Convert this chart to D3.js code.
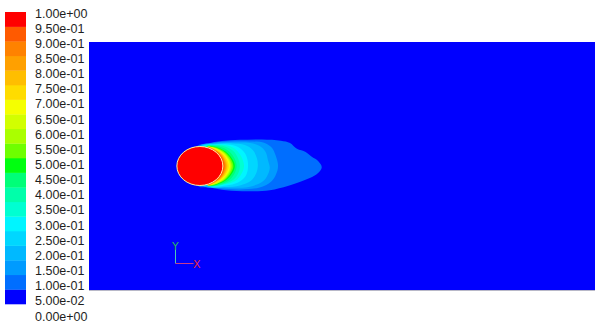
<!DOCTYPE html>
<html>
<head>
<meta charset="utf-8">
<script src="https://cdn.jsdelivr.net/npm/d3@7"></script>
<style>
  html, body { margin: 0; padding: 0; background: #ffffff; }
  svg { display: block; }
</style>
</head>
<body>
<svg id="chart" width="595" height="323"></svg>
<script>
// Colour-bar tick values and their printed labels (top to bottom)
const tickValues = [1.00, 0.95, 0.90, 0.85, 0.80, 0.75, 0.70, 0.65, 0.60, 0.55, 0.50,
                    0.45, 0.40, 0.35, 0.30, 0.25, 0.20, 0.15, 0.10, 0.05, 0.00];
const tickLabels = ["1.00e+00", "9.50e-01", "9.00e-01", "8.50e-01", "8.00e-01", "7.50e-01",
                    "7.00e-01", "6.50e-01", "6.00e-01", "5.50e-01", "5.00e-01", "4.50e-01",
                    "4.00e-01", "3.50e-01", "3.00e-01", "2.50e-01", "2.00e-01", "1.50e-01",
                    "1.00e-01", "5.00e-02", "0.00e+00"];

// Band colours, band 0 = [0, 0.05) ... band 19 = [0.95, 1.00]
const bandColors = ["#0000ff", "#006eff", "#009bff", "#00b9ff", "#00d7ff",
                    "#00f5ff", "#00ffd2", "#00ffaa", "#00ff78", "#00ff10",
                    "#6eff00", "#aaff00", "#d2ff00", "#f5ff00", "#ffdc00",
                    "#ffbe00", "#ffa000", "#ff8200", "#ff5a00", "#ff0000"];

// Flow domain extent in cylinder diameters (x/D, y/D)
const domainX = [-2.41, 8.59];
const domainY = [-3.18, 3.18];
const cylinderRadius = 0.5;

// Iso-contour outlines of the scalar field (x/D, y/D), lower bound of each band
const contourLevels = [0.05, 0.10, 0.15, 0.20, 0.25, 0.30, 0.35, 0.40, 0.45,
                       0.50, 0.55, 0.60, 0.65, 0.70, 0.75, 0.80, 0.85, 0.90];

const iso05 = [[-0.06,0.51],[0.17,0.58],[0.48,0.64],[0.87,0.67],[1.35,0.68],[1.76,0.65],
               [1.96,0.59],[2.11,0.44],[2.30,0.36],[2.44,0.23],[2.57,0.13],[2.65,-0.03],
               [2.57,-0.18],[2.39,-0.31],[2.17,-0.41],[1.91,-0.51],[1.52,-0.62],[1.04,-0.65],
               [0.57,-0.62],[0.22,-0.55],[-0.04,-0.51],[-0.2,0]];
const iso10 = [[-0.02,0.51],[0.26,0.59],[0.65,0.63],[1.09,0.63],[1.41,0.59],[1.57,0.46],
               [1.65,0.26],[1.70,0],[1.65,-0.23],[1.54,-0.41],[1.30,-0.55],[0.87,-0.60],
               [0.43,-0.57],[0.11,-0.52],[-0.2,0]];
const iso15 = [[0.02,0.51],[0.30,0.58],[0.70,0.60],[1.09,0.59],[1.30,0.51],[1.43,0.36],
               [1.48,0.15],[1.52,-0.05],[1.46,-0.26],[1.35,-0.41],[1.09,-0.53],[0.70,-0.56],
               [0.33,-0.54],[0.07,-0.51],[-0.2,0]];
const iso20 = [[0.04,0.51],[0.33,0.56],[0.70,0.58],[0.98,0.54],[1.15,0.41],[1.24,0.20],
               [1.26,0],[1.22,-0.20],[1.11,-0.38],[0.87,-0.50],[0.54,-0.54],[0.22,-0.53],[-0.2,0]];
const iso25 = [[0.07,0.505],[0.33,0.55],[0.61,0.55],[0.83,0.49],[0.98,0.33],[1.04,0.13],
               [1.04,-0.10],[0.98,-0.28],[0.83,-0.42],[0.57,-0.50],[0.26,-0.51],[-0.2,0]];
const iso30 = [[0.09,0.505],[0.33,0.54],[0.57,0.53],[0.76,0.44],[0.89,0.26],[0.96,0],
               [0.89,-0.23],[0.76,-0.39],[0.54,-0.47],[0.26,-0.505],[-0.2,0]];
const iso35 = [[0.11,0.50],[0.33,0.53],[0.54,0.50],[0.72,0.39],[0.83,0.20],[0.87,0],
               [0.83,-0.20],[0.72,-0.36],[0.52,-0.46],[0.26,-0.50],[-0.2,0]];
const iso40 = [[0.13,0.50],[0.33,0.515],[0.50,0.47],[0.65,0.36],[0.76,0.18],[0.80,0],
               [0.76,-0.18],[0.65,-0.35],[0.48,-0.45],[0.24,-0.50],[-0.2,0]];
const iso45 = [[0.15,0.48],[0.289,0.501],[0.591,0.342],[0.761,0],[0.591,-0.342],[0.289,-0.501],[0.15,-0.48],[0,0]];
const iso50 = [[0.15,0.48],[0.284,0.492],[0.572,0.330],[0.728,0],[0.572,-0.330],[0.284,-0.492],[0.15,-0.48],[0,0]];
const iso55 = [[0.15,0.48],[0.279,0.484],[0.552,0.319],[0.696,0],[0.552,-0.319],[0.279,-0.484],[0.15,-0.48],[0,0]];
const iso60 = [[0.15,0.48],[0.276,0.478],[0.539,0.311],[0.674,0],[0.539,-0.311],[0.276,-0.478],[0.15,-0.48],[0,0]];
const iso65 = [[0.15,0.48],[0.273,0.473],[0.525,0.303],[0.652,0],[0.525,-0.303],[0.273,-0.473],[0.15,-0.48],[0,0]];
const iso70 = [[0.15,0.48],[0.270,0.467],[0.512,0.296],[0.630,0],[0.512,-0.296],[0.270,-0.467],[0.15,-0.48],[0,0]];
const iso75 = [[0.15,0.48],[0.265,0.458],[0.493,0.284],[0.598,0],[0.493,-0.284],[0.265,-0.458],[0.15,-0.48],[0,0]];
const iso80 = [[0.15,0.48],[0.261,0.453],[0.479,0.277],[0.576,0],[0.479,-0.277],[0.261,-0.453],[0.15,-0.48],[0,0]];
const iso85 = [[0.15,0.48],[0.258,0.447],[0.466,0.269],[0.554,0],[0.466,-0.269],[0.258,-0.447],[0.15,-0.48],[0,0]];
const iso90 = [[0.15,0.48],[0.255,0.442],[0.453,0.262],[0.533,0],[0.453,-0.262],[0.255,-0.442],[0.15,-0.48],[0,0]];

const contourOutlines = [iso05, iso10, iso15, iso20, iso25, iso30, iso35, iso40, iso45,
                         iso50, iso55, iso60, iso65, iso70, iso75, iso80, iso85, iso90];

const svg = d3.select("#chart");

// ---- Flow domain ----
const x = d3.scaleLinear().domain(domainX).range([89, 595]);
const y = d3.scaleLinear().domain(domainY).range([290, 42]);

const plot = svg.append("g").attr("class", "domain-plot");

plot.append("rect")
  .attr("x", x(domainX[0]))
  .attr("y", y(domainY[1]))
  .attr("width", x(domainX[1]) - x(domainX[0]))
  .attr("height", y(domainY[0]) - y(domainY[1]))
  .attr("fill", bandColors[0]);

const contourLine = d3.line()
  .x(d => x(d[0]))
  .y(d => y(d[1]))
  .curve(d3.curveCatmullRomClosed.alpha(0.5));

const bandIndex = v => Math.round(v / 0.05);

plot.selectAll("path.band")
  .data(contourLevels.map((lv, i) => ({ level: lv, pts: contourOutlines[i] })))
  .join("path")
  .attr("class", "band")
  .attr("d", d => contourLine(d.pts))
  .attr("fill", d => bandColors[bandIndex(d.level)]);

// Cylinder (source region, top band)
plot.append("ellipse")
  .attr("cx", x(0))
  .attr("cy", y(0))
  .attr("rx", x(cylinderRadius) - x(0))
  .attr("ry", y(0) - y(cylinderRadius))
  .attr("fill", bandColors[19])
  .attr("stroke", "#fff3a0")
  .attr("stroke-width", 1);

// Bottom wall
plot.append("line")
  .attr("x1", x(domainX[0])).attr("x2", x(domainX[1]))
  .attr("y1", y(domainY[0]) + 0.5).attr("y2", y(domainY[0]) + 0.5)
  .attr("stroke", "#b8b8c8")
  .attr("stroke-width", 1.2);

// ---- Coordinate triad ----
const triad = svg.append("g").attr("transform", "translate(175.5,263.5)");
triad.append("line").attr("x1", 0).attr("y1", 0).attr("x2", 0).attr("y2", -14)
  .attr("stroke", "#4cc8b4").attr("stroke-width", 1);
triad.append("line").attr("x1", 0).attr("y1", 0).attr("x2", 18).attr("y2", 0)
  .attr("stroke", "#c83c8c").attr("stroke-width", 1);
triad.append("text").attr("x", -3.5).attr("y", -14)
  .attr("fill", "#28b464").attr("font-family", "DejaVu Sans, Arial, sans-serif")
  .attr("font-size", 11).text("Y");
triad.append("text").attr("x", 17.5).attr("y", 4)
  .attr("fill", "#e6283c").attr("font-family", "DejaVu Sans, Arial, sans-serif")
  .attr("font-size", 11).text("X");

// ---- Colour bar ----
const boxY = d3.scaleLinear().domain([1, 0]).range([12, 304]);
const labelY = d3.scaleLinear().domain([1, 0]).range([13, 316]);

const legend = svg.append("g").attr("class", "colorbar");

legend.selectAll("rect")
  .data(d3.range(20))
  .join("rect")
  .attr("x", 5)
  .attr("width", 21)
  .attr("y", i => boxY((i + 1) * 0.05))
  .attr("height", i => boxY(i * 0.05) - boxY((i + 1) * 0.05) + 0.3)
  .attr("fill", i => bandColors[i]);

legend.selectAll("text")
  .data(tickValues)
  .join("text")
  .attr("x", 35)
  .attr("y", v => labelY(v))
  .attr("dy", "0.36em")
  .attr("font-family", "Liberation Sans, Arial, Helvetica, sans-serif")
  .attr("font-size", 12.5)
  .attr("fill", "#1e1e1e")
  .text((v, i) => tickLabels[i]);
</script>
</body>
</html>
